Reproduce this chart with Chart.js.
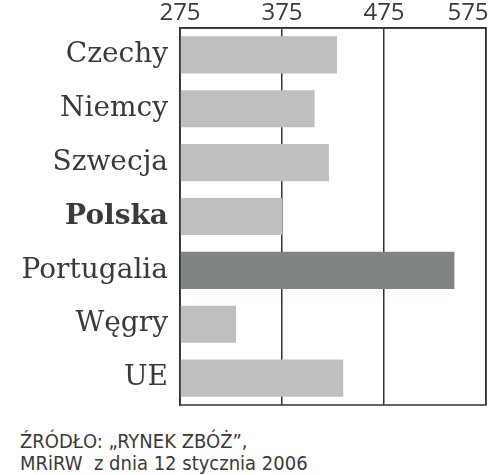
<!DOCTYPE html>
<html>
<head>
<meta charset="utf-8">
<script src="https://cdn.jsdelivr.net/npm/chart.js@4"></script>
<style>
  html, body { margin: 0; padding: 0; background: #fff; }
  #c { position: absolute; left: 0; top: 0; display: block; }
  .src { position: absolute; left: 20px; font-family: "DejaVu Sans Condensed", "DejaVu Sans", sans-serif; font-size: 20px; line-height: 24px; color: #3a3a3a; white-space: pre; }
</style>
</head>
<body>
<canvas id="c" width="500" height="410"></canvas>
<div class="src" style="top:429px">ŹRÓDŁO: „RYNEK ZBÓŻ”,</div>
<div class="src" style="top:451px">MRiRW  z dnia 12 stycznia 2006</div>
<script>
const categories = ["Czechy", "Niemcy", "Szwecja", "Polska", "Portugalia", "Węgry", "UE"];
const values = [429, 407, 421, 375, 544, 330, 435];
const barColors = ["#bdbfc0", "#bdbfc0", "#bdbfc0", "#bdbfc0", "#818485", "#bdbfc0", "#bdbfc0"];
const boldCategory = "Polska";
const axisMin = 275, axisMax = 575, axisStep = 100;

const lineColor = "#333333";
const textColor = "#3a3a3a";

const frame = {
  id: "frame",
  afterDatasetsDraw(chart) {
    const a = chart.chartArea, ctx = chart.ctx;
    ctx.save();
    ctx.strokeStyle = lineColor;
    ctx.lineWidth = 1.5;
    ctx.strokeRect(a.left, a.top, a.right - a.left, a.bottom - a.top);
    ctx.restore();
  }
};

new Chart(document.getElementById("c"), {
  type: "bar",
  data: {
    labels: categories,
    datasets: [{
      data: values,
      backgroundColor: barColors,
      borderWidth: 0,
      categoryPercentage: 1.0,
      barPercentage: 0.69
    }]
  },
  options: {
    indexAxis: "y",
    responsive: false,
    animation: false,
    layout: { padding: { left: 0, right: 14, top: 0, bottom: 5 } },
    plugins: { legend: { display: false }, tooltip: { enabled: false } },
    scales: {
      x: {
        position: "top",
        min: axisMin, max: axisMax,
        ticks: {
          stepSize: axisStep,
          color: textColor,
          padding: 0,
          font: { family: "Open Sans", size: 24 },
          callback: (v) => v === axisMax ? v + "\u2002\u2002\u2002" : String(v)
        },
        grid: { color: lineColor, lineWidth: 1.5, drawTicks: false },
        border: { display: true, color: lineColor, width: 1.5 },
        afterFit: (s) => { s.height = 28; s.paddingLeft = 0; s.paddingRight = 0; }
      },
      y: {
        ticks: {
          color: textColor,
          padding: 12,
          font: (ctx) => ({
            family: "DejaVu Serif",
            size: 28,
            weight: categories[ctx.index] === boldCategory ? "bold" : "normal"
          })
        },
        grid: { display: false, drawTicks: false },
        border: { display: true, color: lineColor, width: 1.5 },
        afterFit: (s) => { s.width = 180; s.paddingTop = 0; s.paddingBottom = 0; }
      }
    }
  },
  plugins: [frame]
});
</script>
</body>
</html>
